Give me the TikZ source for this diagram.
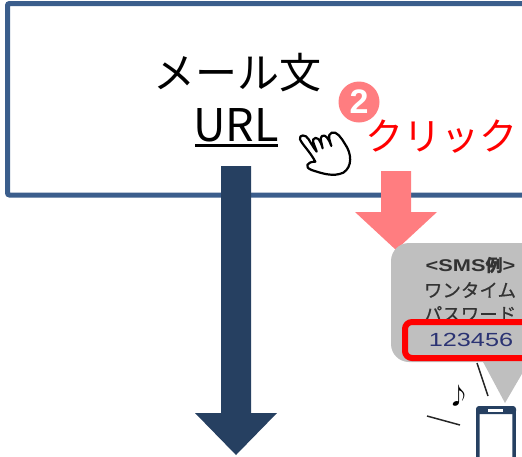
\documentclass[tikz,border=0pt]{standalone}
\usepackage{fontspec}
\usepackage{xcolor}
\newfontfamily\jpfont{Noto Sans CJK JP}
\newfontfamily\smsjp[FakeBold=0.5]{Noto Sans CJK JP}
\newfontfamily\smsfont[FakeStretch=1.28]{Liberation Sans}
\newfontfamily\numfont{Liberation Sans}
\newfontfamily\codefont[FakeStretch=1.33]{Liberation Sans}
\definecolor{boxblue}{rgb}{0.23,0.37,0.55}
\definecolor{navy}{rgb}{0.15,0.25,0.38}
\definecolor{salmon}{rgb}{1,0.49,0.5}
\definecolor{bubble}{rgb}{0.75,0.75,0.75}
\definecolor{codeblue}{rgb}{0.17,0.2,0.45}
\tikzset{
    mailtext/.style={inner sep=0pt, font=\jpfont\fontsize{42}{42}\selectfont},
    smstext/.style={inner sep=0pt, text=black!80, font=\smsjp\fontsize{18.5}{18.5}\selectfont}
}

\begin{document}
\begin{tikzpicture}[x=1pt,y=-1pt]
        \useasboundingbox (0,0) rectangle (522,456);
        \clip (0,0) rectangle (522,456);
        \draw[boxblue, line width=5pt, rounded corners=2pt] (7.5,3.5) rectangle (540,195);
        \node[mailtext] (mail) at (237.5,73) {メール文};
        \node[mailtext, font=\jpfont\fontsize{45}{45}\selectfont] (url) at (236,125) {URL};
        \draw[black, line width=2.2pt] (195,145.5) -- (278,145.5);
        \filldraw[fill=navy, draw=none] (221,166) -- (251,166) -- (251,413) -- (277,413) -- (236,455) -- (195,413) -- (221,413) -- cycle;
        \filldraw[fill=salmon, draw=none] (381,171) -- (411,171) -- (411,212) -- (437,212) -- (396,250) -- (355,212) -- (381,212) -- cycle;
        \node[circle, fill=salmon, minimum size=41pt, inner sep=0pt, text=white, font=\numfont\bfseries\fontsize{34}{34}\selectfont] (num) at (359,102) {2};
        \node[inner sep=0pt, text=red, font=\jpfont\fontsize{38}{38}\selectfont] (click) at (441.5,137) {クリック};
        \begin{scope}[shift={(290,70)}, x=0.3333pt, y=-0.3333pt]
            \draw[black, line width=2.2pt, line join=round, fill=white] (76,275)
                .. controls (60,245) and (38,225) .. (30,208) .. controls (26,193) and (48,192) .. (56,208)
                .. controls (62,218) and (70,232) .. (80,245) .. controls (76,230) and (66,215) .. (70,208)
                .. controls (78,198) and (90,205) .. (98,235) .. controls (95,218) and (88,205) .. (96,198)
                .. controls (106,192) and (116,205) .. (124,228) .. controls (120,212) and (110,195) .. (125,188)
                .. controls (140,182) and (155,205) .. (165,222) .. controls (185,250) and (188,290) .. (160,308)
                .. controls (130,322) and (95,310) .. (65,300) .. controls (42,292) and (50,275) .. (76,275) -- cycle;
        \end{scope}
        \filldraw[fill=bubble, draw=none, rounded corners=18pt] (391,243) rectangle (560,362);
        \filldraw[fill=bubble, draw=none] (482,360) -- (505,403) -- (530,360) -- cycle;
        \node[smstext, font=\smsfont\bfseries\fontsize{17}{17}\selectfont] (sms) at (470.5,265) {<SMS\smsjp 例\smsfont >};
        \node[smstext] (otp) at (470,290) {ワンタイム};
        \node[smstext] (pass) at (470,314) {パスワード};
        \draw[red, line width=6pt, rounded corners=7pt] (405,322) rectangle (560,358);
        \node[inner sep=0pt, text=codeblue, font=\codefont\fontsize{19}{19}\selectfont] (code) at (471,340) {123456};
        \draw[black!85, line width=1.5pt] (477,363) -- (488,396);
        \draw[black!85, line width=1.5pt] (427,416) -- (460,425);
        \node[inner sep=0pt, text=black, font=\jpfont\fontsize{23}{23}\selectfont] (note) at (459,396) {♪};
        \draw[navy, line width=3.5pt, rounded corners=3pt, fill=white] (477.8,407.8) rectangle (514.2,480);
        \fill[navy, rounded corners=3pt] (476,406) rectangle (516,414);
        \fill[white] (488,409) rectangle (503,412);
    \end{tikzpicture}
\end{document}
